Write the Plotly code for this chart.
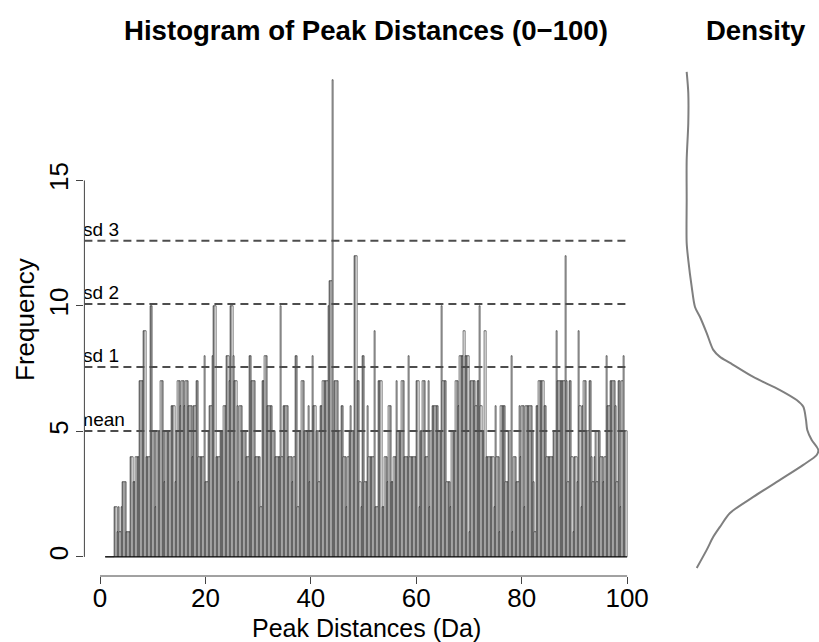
import plotly.graph_objects as go
import numpy as np

# ---------------- data ----------------
bin_start = 1.0      # first break (Da)
bin_width = 0.25     # histogram bin width (Da)
counts = [
    0, 0, 0, 0,    # 1
    0, 0, 0, 2,    # 2
    2, 1, 2, 1,    # 3
    2, 3, 3, 3,    # 4
    1, 1, 1, 4,    # 5
    4, 3, 3, 4,    # 6
    4, 4, 7, 7,    # 7
    7, 9, 9, 4,    # 8
    4, 4, 10, 10,  # 9
    5, 5, 2, 5,    # 10
    5, 5, 7, 7,    # 11
    5, 3, 5, 5,    # 12
    5, 5, 6, 6,    # 13
    6, 3, 5, 7,    # 14
    7, 6, 7, 7,    # 15
    6, 7, 7, 6,    # 16
    6, 6, 4, 6,    # 17
    6, 7, 7, 4,    # 18
    4, 4, 4, 8,    # 19
    3, 3, 5, 6,    # 20
    6, 8, 10, 10,  # 21
    4, 4, 4, 5,    # 22
    5, 5, 6, 6,    # 23
    8, 8, 7, 10,   # 24
    10, 8, 7, 7,   # 25
    6, 3, 6, 6,    # 26
    5, 5, 5, 4,    # 27
    4, 8, 8, 7,    # 28
    7, 7, 4, 4,    # 29
    4, 4, 2, 7,    # 30
    7, 8, 8, 6,    # 31
    6, 6, 6, 5,    # 32
    5, 4, 4, 4,    # 33
    4, 10, 4, 6,   # 34
    6, 6, 6, 4,    # 35
    4, 4, 3, 4,    # 36
    8, 8, 2, 5,    # 37
    5, 7, 7, 5,    # 38
    5, 5, 6, 3,    # 39
    5, 8, 6, 6,    # 40
    5, 5, 3, 6,    # 41
    6, 7, 7, 7,    # 42
    7, 10, 11, 11, # 43
    19, 5, 7, 7,   # 44
    7, 5, 5, 6,    # 45
    6, 4, 4, 2,    # 46
    4, 5, 6, 5,    # 47
    5, 12, 12, 7,  # 48
    7, 3, 2, 8,    # 49
    8, 3, 3, 6,    # 50
    4, 4, 4, 4,    # 51
    9, 2, 2, 7,    # 52
    7, 7, 2, 2,    # 53
    4, 4, 3, 6,    # 54
    6, 3, 3, 4,    # 55
    4, 7, 5, 5,    # 56
    5, 7, 7, 4,    # 57
    4, 4, 8, 4,    # 58
    4, 4, 4, 4,    # 59
    7, 7, 2, 5,    # 60
    5, 7, 7, 4,    # 61
    4, 7, 2, 5,    # 62
    6, 6, 6, 6,    # 63
    6, 5, 5, 10,   # 64
    7, 7, 7, 3,    # 65
    3, 3, 2, 5,    # 66
    5, 5, 7, 7,    # 67
    6, 8, 8, 8,    # 68
    9, 8, 8, 8,    # 69
    1, 7, 7, 7,    # 70
    7, 6, 7, 7,    # 71
    10, 6, 5, 5,   # 72
    9, 4, 4, 4,    # 73
    4, 4, 4, 2,    # 74
    6, 4, 4, 1,    # 75
    6, 6, 6, 6,    # 76
    3, 3, 5, 5,    # 77
    8, 1, 4, 4,    # 78
    3, 3, 6, 4,    # 79
    6, 6, 2, 6,    # 80
    6, 6, 6, 6,    # 81
    5, 3, 1, 6,    # 82
    6, 7, 7, 7,    # 83
    7, 6, 6, 4,    # 84
    4, 4, 4, 4,    # 85
    5, 5, 9, 7,    # 86
    7, 7, 7, 7,    # 87
    7, 12, 7, 3,   # 88
    7, 7, 4, 1,    # 89
    4, 4, 3, 9,    # 90
    6, 2, 6, 7,    # 91
    7, 5, 5, 7,    # 92
    7, 4, 3, 4,    # 93
    5, 3, 5, 5,    # 94
    4, 4, 3, 4,    # 95
    8, 6, 6, 7,    # 96
    7, 7, 7, 6,    # 97
    3, 7, 7, 2,    # 98
    7, 8, 5, 5,    # 99
]

# reference lines (mean and mean + k*sd of the bin counts)
ref_labels = ["mean", "sd 1", "sd 2", "sd 3"]
ref_values = [5.02, 7.57, 10.08, 12.60]

# density of bin counts (right panel): density value, count value
dens_x = [0.0175, 0.0324, 0.0422, 0.0522, 0.0672, 0.1019, 0.1418, 0.1766, 0.1966,
          0.1990, 0.1891, 0.1825, 0.1806, 0.1766, 0.1667, 0.1418, 0.1019, 0.0672,
          0.0522, 0.0422, 0.0324, 0.0224, 0.0149, 0.0100, 0.0049, 0.0025, 0.0025,
          0.0025, 0.0049, 0.0049, 0.0025]
dens_y = [-0.44, 0.28, 0.80, 1.20, 1.75, 2.39, 3.07, 3.67, 4.06,
          4.26, 4.66, 5.06, 5.46, 5.98, 6.25, 6.65, 7.17, 7.73,
          7.97, 8.25, 8.92, 9.56, 9.96, 10.76, 11.83, 12.51, 14.22,
          15.82, 17.29, 18.49, 19.33]

x_ticks = [0, 20, 40, 60, 80, 100]
y_ticks = [0, 5, 10, 15]

# ---------------- figure ----------------
W, H = 819, 642
FONT = "Liberation Sans, Arial, Helvetica, sans-serif"

n = len(counts)
breaks = bin_start + bin_width * np.arange(n + 1)
centers = (breaks[:-1] + breaks[1:]) / 2
xlo, xhi = breaks[0], breaks[-1]
pad = 0.04 * (xhi - xlo)
x_range = [xlo - pad, xhi + pad]
ymax = max(counts)
y_range = [-0.04 * ymax, ymax * 1.04]

def px(x):
    return x / W

def py(y):
    return 1 - y / H

x_dom = [px(84.4), px(648)]
y_dom = [py(576), py(61)]

fig = go.Figure()

fig.add_trace(go.Bar(
    x=centers, y=counts, width=bin_width,
    marker=dict(color="white", line=dict(color="black", width=0.55)),
    xaxis="x", yaxis="y", showlegend=False, hoverinfo="x+y",
))

# labels for the reference lines (clipped at the plot region like R)
fig.add_trace(go.Scatter(
    x=[0.2] * len(ref_values), y=ref_values, mode="text",
    text=ref_labels, textposition="top center",
    textfont=dict(family=FONT, size=19, color="black"),
    cliponaxis=True, showlegend=False, xaxis="x", yaxis="y", hoverinfo="skip",
))

fig.add_trace(go.Scatter(
    x=dens_x, y=dens_y, mode="lines",
    line=dict(color="#7f7f7f", width=2, shape="spline", smoothing=0.8),
    xaxis="x2", yaxis="y2", showlegend=False, hoverinfo="skip",
))

shapes = []
# baseline of the histogram
shapes.append(dict(type="line", xref="x", yref="y", x0=xlo, x1=xhi, y0=0, y1=0,
                   line=dict(color="black", width=1)))
# dashed reference lines
for v in ref_values:
    shapes.append(dict(type="line", xref="x", yref="y", x0=x_range[0], x1=xhi, y0=v, y1=v,
                       line=dict(color="#4d4d4d", width=2, dash="8px,5px"), layer="above"))
# axis lines spanning only the tick range (R style)
shapes.append(dict(type="line", xref="x", yref="paper", x0=x_ticks[0], x1=x_ticks[-1],
                   y0=y_dom[0], y1=y_dom[0], line=dict(color="#444444", width=1)))
shapes.append(dict(type="line", xref="paper", yref="y", x0=x_dom[0], x1=x_dom[0],
                   y0=y_ticks[0], y1=y_ticks[-1], line=dict(color="#444444", width=1)))

annotations = [
    dict(text="<b>Histogram of Peak Distances (0\u2212100)</b>", x=px(366), y=py(31),
         xref="paper", yref="paper", showarrow=False, xanchor="center", yanchor="middle",
         font=dict(family=FONT, size=27.6, color="black")),
    dict(text="<b>Density</b>", x=px(756), y=py(31),
         xref="paper", yref="paper", showarrow=False, xanchor="center", yanchor="middle",
         font=dict(family=FONT, size=27.5, color="black")),
    dict(text="Peak Distances (Da)", x=px(366), y=py(628),
         xref="paper", yref="paper", showarrow=False, xanchor="center", yanchor="middle",
         font=dict(family=FONT, size=25, color="black")),
    dict(text="Frequency", x=px(25), y=py(320), textangle=-90,
         xref="paper", yref="paper", showarrow=False, xanchor="center", yanchor="middle",
         font=dict(family=FONT, size=26, color="black")),
]

fig.update_layout(
    width=W, height=H,
    margin=dict(l=0, r=0, t=0, b=0),
    paper_bgcolor="white", plot_bgcolor="white",
    bargap=0,
    font=dict(family=FONT, color="black"),
    xaxis=dict(domain=x_dom, range=x_range, tickvals=x_ticks, ticks="outside", ticklen=7,
               tickcolor="#444444", showgrid=False, zeroline=False, showline=False,
               ticklabelstandoff=-8,
               tickfont=dict(family=FONT, size=26, color="black"), anchor="y"),
    yaxis=dict(domain=y_dom, range=y_range, tickvals=y_ticks, ticks="outside", ticklen=7,
               tickcolor="#444444", showgrid=False, zeroline=False, showline=False,
               tickangle=-90, ticklabelstandoff=-2,
               tickfont=dict(family=FONT, size=26, color="black"), anchor="x"),
    xaxis2=dict(domain=[px(670), 1.0], range=[-0.0224, 0.2], visible=False, anchor="y2"),
    yaxis2=dict(domain=y_dom, range=y_range, visible=False, anchor="x2"),
    shapes=shapes,
    annotations=annotations,
)

fig.write_html("out.html")
